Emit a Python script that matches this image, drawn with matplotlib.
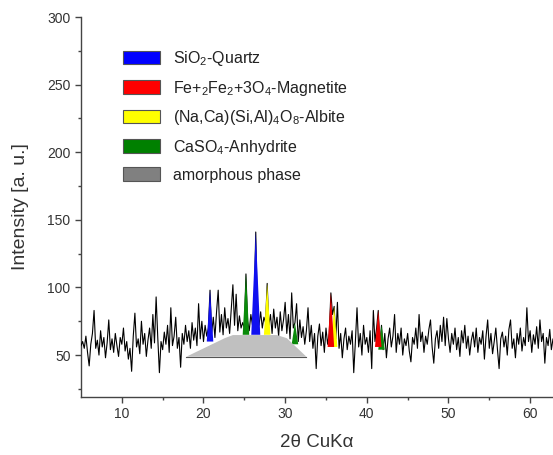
import matplotlib; matplotlib.use("Agg")
import matplotlib.pyplot as plt
import numpy as np
from matplotlib.patches import Patch

plt.rcParams['font.family'] = ['Liberation Sans', 'DejaVu Sans']
plt.rcParams['mathtext.fontset'] = 'custom'
plt.rcParams['mathtext.rm'] = 'Liberation Sans'
plt.rcParams['mathtext.it'] = 'Liberation Sans:italic'

# diffractogram, 2theta from 5.0 to 63.0 in 0.2 deg steps
intensity = [
    57, 60, 55, 64, 52, 42, 58, 66, 83, 55,   # 5.0
    61, 50, 68, 56, 63, 48, 59, 76, 54, 62,   # 7.0
    52, 66, 57, 49, 63, 58, 70, 53, 60, 47,   # 9.0
    55, 38, 64, 81, 56, 62, 51, 75, 58, 66,   # 11.0
    49, 61, 70, 55, 80, 59, 93, 63, 37, 60,   # 13.0
    54, 67, 58, 72, 52, 85, 57, 64, 78, 55,   # 15.0
    63, 41, 66, 58, 72, 60, 68, 55, 74, 61,   # 17.0
    70, 57, 88, 62, 75, 60, 72, 64, 70, 98,   # 19.0
    66, 78, 63, 82, 98, 67, 80, 65, 85, 70,   # 21.0
    77, 66, 84, 102, 72, 95, 68, 79, 70, 74,  # 23.0
    70, 110, 75, 68, 80, 72, 85, 141, 80, 72, # 25.0
    82, 70, 78, 74, 103, 72, 80, 66, 84, 70,  # 27.0
    78, 64, 82, 68, 76, 89, 66, 80, 62, 96,   # 29.0
    70, 74, 88, 60, 76, 63, 71, 58, 68, 85,   # 31.0
    60, 72, 55, 66, 40, 64, 73, 57, 67, 52,   # 33.0
    70, 58, 66, 96, 80, 86, 62, 89, 55, 66,   # 35.0
    48, 62, 70, 54, 64, 58, 68, 37, 60, 85,   # 37.0
    56, 66, 50, 72, 58, 63, 52, 68, 40, 83,   # 39.0
    60, 70, 83, 58, 72, 54, 66, 48, 62, 70,   # 41.0
    56, 64, 80, 52, 66, 58, 70, 50, 62, 57,   # 43.0
    66, 53, 45, 63, 58, 70, 55, 80, 60, 67,   # 45.0
    52, 64, 58, 69, 76, 56, 44, 62, 68, 55,   # 47.0
    72, 60, 78, 57, 77, 62, 52, 66, 58, 70,   # 49.0
    54, 63, 49, 68, 59, 72, 55, 64, 50, 61,   # 51.0
    67, 56, 70, 52, 63, 58, 68, 47, 64, 76,   # 53.0
    55, 66, 51, 60, 70, 54, 40, 62, 67, 56,   # 55.0
    64, 50, 69, 76, 55, 62, 48, 66, 58, 70,   # 57.0
    53, 63, 57, 85, 60, 68, 52, 65, 58, 71,   # 59.0
    55, 76, 60, 66, 44, 63, 57, 69, 54, 62,   # 61.0
    58,                                       # 63.0
]
two_theta = np.linspace(5.0, 63.0, len(intensity))

# identified reflections
peak_pos = [20.8, 25.2, 26.4, 27.8, 31.2, 36.0, 35.6, 41.8, 41.4]
peak_top = [98, 110, 141, 103, 74, 86, 96, 72, 83]
peak_base = [60, 65, 65, 65, 58, 56, 56, 54, 56]
peak_phase = ["quartz", "anhydrite", "quartz", "albite", "anhydrite",
              "albite", "magnetite", "anhydrite", "magnetite"]

# amorphous hump
amorph_x = [17.9, 22.6, 23.6, 29.0, 30.2, 32.6]
amorph_y = [48.8, 62.5, 64.8, 64.8, 62.5, 48.8]

phase_color = {"quartz": "#1010f0", "magnetite": "#ee0000",
               "albite": "#ffff00", "anhydrite": "#0a8a0a"}
legend_labels = ["SiO$_2$-Quartz", "Fe+$_2$Fe$_2$+3O$_4$-Magnetite",
                 "(Na,Ca)(Si,Al)$_4$O$_8$-Albite", "CaSO$_4$-Anhydrite",
                 "amorphous phase"]
legend_colors = ["#0000ff", "#ff0000", "#ffff00", "#008000", "#808080"]

fig = plt.figure(figsize=(5.53, 4.55), dpi=100)
ax = fig.add_axes([81/553, 1-397/455, 1-81/553, 380/455])

ax.plot(two_theta, intensity, color="black", lw=0.8, zorder=3)
for p, t, b, ph in zip(peak_pos, peak_top, peak_base, peak_phase):
    hw = 0.55 if t > 130 else 0.4
    ax.fill([p-hw, p, p+hw], [b, t, b], color=phase_color[ph], lw=0, zorder=3.5)
ax.fill(amorph_x, amorph_y, color="#c0c0c0", lw=0, zorder=4)
ax.plot([amorph_x[0], amorph_x[-1]], [amorph_y[0], amorph_y[-1]], color="#555", lw=0.8, zorder=4)

ax.set_xlim(5, 62.8)
ax.set_ylim(19, 300)
ax.set_xticks([10, 20, 30, 40, 50, 60])
ax.set_xticks([15, 25, 35, 45, 55], minor=True)
ax.set_yticks([50, 100, 150, 200, 250, 300])
ax.set_yticks([25, 75, 125, 175, 225, 275], minor=True)
for s in ["top", "right"]:
    ax.spines[s].set_visible(False)
for s in ["left", "bottom"]:
    ax.spines[s].set_color("#444")
    ax.spines[s].set_linewidth(1.0)
ax.tick_params(which="major", direction="out", length=4, width=1, colors="#444",
               labelsize=10, labelcolor="#333")
ax.tick_params(which="minor", direction="out", length=2.5, width=1, colors="#444")
ax.set_xlabel("2θ CuKα", fontsize=13.5, color="#333", labelpad=9)
ax.set_ylabel("Intensity [a. u.]", fontsize=14, color="#333", labelpad=13)

handles = [Patch(facecolor=c, edgecolor="#555", lw=0.8) for c in legend_colors]
fig.legend(handles, legend_labels, loc="upper left", bbox_to_anchor=(123/553, 1-49/455),
           frameon=False, fontsize=11.5, handlelength=2.3, handleheight=0.95,
           labelspacing=0.66, handletextpad=0.85, borderpad=0, borderaxespad=0,
           labelcolor="#222")

fig.savefig("out.png", dpi=100)
